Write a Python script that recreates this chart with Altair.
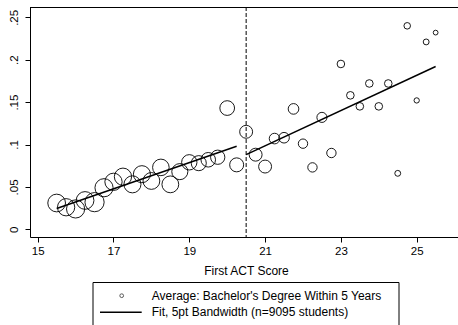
import altair as alt
import pandas as pd

# ---- data ----
act = [15.5, 15.75, 16.0, 16.25, 16.5, 16.75, 17.0, 17.25, 17.5, 17.75,
       18.0, 18.25, 18.5, 18.75, 19.0, 19.25, 19.5, 19.75, 20.0, 20.25,
       20.5, 20.75, 21.0, 21.25, 21.5, 21.75, 22.0, 22.25, 22.5, 22.75,
       23.0, 23.25, 23.5, 23.75, 24.0, 24.25, 24.5, 24.75, 25.0, 25.25, 25.5]
share = [0.031, 0.026, 0.024, 0.034, 0.032, 0.049, 0.056, 0.062, 0.053, 0.065,
         0.057, 0.073, 0.053, 0.068, 0.079, 0.078, 0.082, 0.085, 0.143, 0.076,
         0.115, 0.088, 0.074, 0.107, 0.108, 0.142, 0.101, 0.073, 0.132, 0.090,
         0.195, 0.158, 0.145, 0.172, 0.145, 0.172, 0.066, 0.240, 0.152, 0.221, 0.232]
students = [400, 380, 420, 400, 470, 420, 380, 380, 370, 370,
            360, 350, 360, 330, 300, 290, 270, 260, 276, 250,
            213, 213, 213, 144, 144, 144, 112, 112, 130, 112,
            74, 74, 74, 74, 74, 74, 44, 55, 36, 44, 29]

fit_x = [15.5, 20.25, 20.5, 25.5]
fit_y = [0.0245, 0.098, 0.088, 0.192]
fit_side = ["below", "below", "above", "above"]

cutoff = [20.5]
x_ticks = [15, 17, 19, 21, 23, 25]
y_ticks = [0, 0.05, 0.1, 0.15, 0.2, 0.25]
x_title = "First ACT Score"
legend_labels = ["Average: Bachelor's Degree Within 5 Years",
                 "Fit, 5pt Bandwidth (n=9095 students)"]

# ---- layout ----
W, H = 428, 230
FONT = "Liberation Sans"

points_df = pd.DataFrame({"act": act, "share": share, "n": students})
fit_df = pd.DataFrame({"act": fit_x, "share": fit_y, "side": fit_side})
cut_df = pd.DataFrame({"act": cutoff})

xs = alt.Scale(domain=[14.797, 26.09], nice=False, zero=False)
ys = alt.Scale(domain=[-0.0091, 0.2622], nice=False, zero=False)

x_axis = alt.Axis(values=x_ticks, title=x_title, grid=False, tickSize=5,
                  labelPadding=3, titleX=216, titleY=37,
                  titleBaseline="alphabetic", format="d")
y_axis = alt.Axis(values=y_ticks, grid=False, tickSize=5, labelAngle=-90,
                  labelAlign="center", labelBaseline="bottom", labelPadding=6,
                  labelExpr="datum.value == 0 ? '0' : substring(format(datum.value, '.2~f'), 1)")

pts = alt.Chart(points_df).mark_point(
    shape="circle", filled=False, color="black", strokeWidth=0.9, opacity=1
).encode(
    x=alt.X("act:Q", scale=xs, axis=x_axis),
    y=alt.Y("share:Q", scale=ys, axis=y_axis, title=None),
    size=alt.Size("n:Q", scale=alt.Scale(domain=[0, 400], range=[0, 314]), legend=None),
)

fit = alt.Chart(fit_df).mark_line(color="black", strokeWidth=1.5).encode(
    x=alt.X("act:Q", scale=xs),
    y=alt.Y("share:Q", scale=ys),
    detail="side:N",
)

cut = alt.Chart(cut_df).mark_rule(color="black", strokeWidth=1, strokeDash=[4, 2]).encode(
    x=alt.X("act:Q", scale=xs),
    y=alt.value(0),
    y2=alt.value(H),
)

top_border = alt.Chart(cut_df).mark_rule(color="black", strokeWidth=1).encode(
    x=alt.value(0), x2=alt.value(W + 10), y=alt.value(0.5)
)

# ---- legend drawn by hand below the plot ----
leg_box = alt.Chart(cut_df).mark_rect(
    fill="white", stroke="black", strokeWidth=1, clip=False
).encode(
    x=alt.value(63), x2=alt.value(369), y=alt.value(275.5), y2=alt.value(340)
)
leg_dot = alt.Chart(cut_df).mark_point(
    shape="circle", filled=False, color="black", size=14, strokeWidth=0.9
).encode(x=alt.value(91.7), y=alt.value(288.7))
leg_line = alt.Chart(cut_df).mark_rule(color="black", strokeWidth=1.5).encode(
    x=alt.value(70), x2=alt.value(111.7), y=alt.value(305.3)
)
leg_text1 = alt.Chart(cut_df).mark_text(
    align="left", baseline="middle", font=FONT, fontSize=12, color="black",
    text=legend_labels[0]
).encode(x=alt.value(121.7), y=alt.value(288.7))
leg_text2 = alt.Chart(cut_df).mark_text(
    align="left", baseline="middle", font=FONT, fontSize=12, color="black",
    text=legend_labels[1]
).encode(x=alt.value(121.7), y=alt.value(305.3))

chart = alt.layer(
    pts, fit, cut, top_border, leg_box, leg_dot, leg_line, leg_text1, leg_text2
).properties(
    width=W, height=H,
    autosize=alt.AutoSizeParams(type="none"),
    padding={"left": 30, "top": 7, "right": 0, "bottom": 88},
).configure_view(stroke=None).configure_axis(
    domainColor="black", domainWidth=1, tickColor="black", tickWidth=1,
    labelColor="black", titleColor="black", labelFont=FONT, titleFont=FONT,
    labelFontSize=11.5, titleFontSize=12, titleFontWeight="normal",
)

chart.save("out.html", embed_options={"renderer": "svg", "actions": False})
